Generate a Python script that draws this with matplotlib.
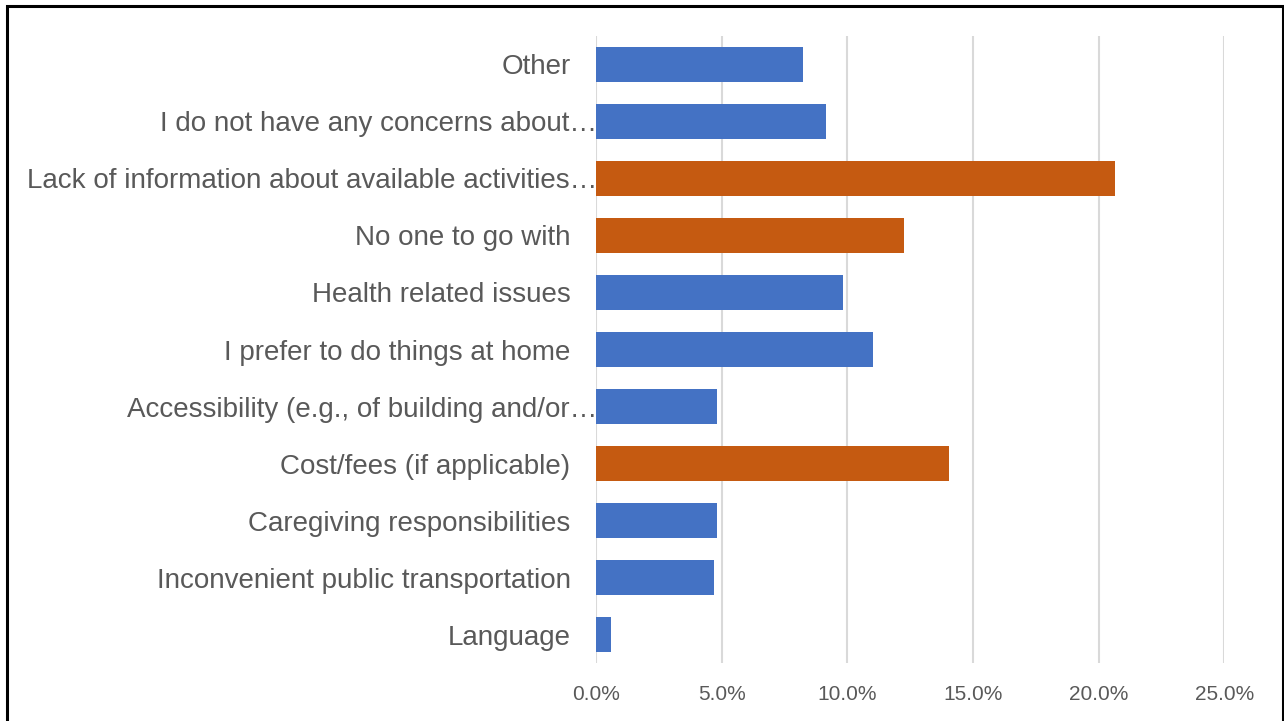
"""
Barriers to taking part in activities - horizontal bar chart
"""

import matplotlib.pyplot as plt
import matplotlib.patches as mpatches
from matplotlib.transforms import ScaledTranslation
from matplotlib.ticker import FuncFormatter

# Categories listed bottom to top, share of respondents (%)
categories = ['Language',
              'Inconvenient public transportation',
              'Caregiving responsibilities',
              'Cost/fees (if applicable)',
              'Accessibility (e.g., of building and/or\u2026',
              'I prefer to do things at home',
              'Health related issues',
              'No one to go with',
              'Lack of information about available activities\u2026',
              'I do not have any concerns about\u2026',
              'Other']
share_pct = [0.59, 4.70, 4.80, 14.03, 4.80, 11.03, 9.83, 12.24, 20.66, 9.13, 8.22]

# top three barriers get highlighted
highlighted = ['Cost/fees (if applicable)', 'No one to go with',
               'Lack of information about available activities\u2026']

x_ticks = [0, 5, 10, 15, 20, 25]

blue = '#4472C4'
orange = '#C55A11'
text_grey = '#595959'

plt.rcParams['font.family'] = ['Liberation Sans', 'DejaVu Sans']

fig = plt.figure(figsize=(12.84, 7.21), dpi=100)
ax = fig.add_axes([0.4644, 0.0804, 0.4891, 0.8697])

colors = [orange if c in highlighted else blue for c in categories]
ypos = list(range(len(categories)))
ax.barh(ypos, share_pct, height=0.63, color=colors, zorder=3)

ax.set_xlim(0, 25)
ax.set_ylim(-0.5, len(categories) - 0.5)
ax.set_xticks(x_ticks)
ax.xaxis.set_major_formatter(FuncFormatter(lambda v, p: f'{v:.1f}%'))
ax.set_yticks(ypos)
ax.set_yticklabels(categories)

ax.grid(axis='x', color='#D9D9D9', linewidth=1.5, zorder=0)
for s in ax.spines.values():
    s.set_visible(False)

ax.tick_params(axis='y', length=0, pad=18.5, labelsize=20, labelcolor=text_grey)
ax.tick_params(axis='x', length=0, pad=16, labelsize=15, labelcolor=text_grey)

# truncated labels run right up to the axis
for lbl in ax.get_yticklabels():
    if lbl.get_text().endswith('\u2026'):
        lbl.set_transform(lbl.get_transform() + ScaledTranslation(0.27, 0, fig.dpi_scale_trans))

# black frame round the whole chart
frame = mpatches.Rectangle((0.0051, -0.05), 0.9941, 1.041, transform=fig.transFigure,
                           fill=False, edgecolor='black', linewidth=2.2, clip_on=False)
fig.patches.append(frame)

plt.savefig('out.png', dpi=100)
